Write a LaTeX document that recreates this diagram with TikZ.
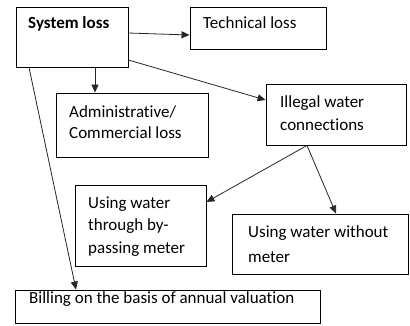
\documentclass[tikz,border=0pt]{standalone}
\usepackage{fontspec}
\setmainfont[Ligatures=NoCommon]{Carlito}
\usetikzlibrary{arrows.meta}
\tikzset{
  box/.style={draw=black, line width=0.9pt, rectangle, inner sep=0pt},
  txt/.style={anchor=base west, inner sep=0pt, font=\fontsize{17}{22}\selectfont, text=black},
  arr/.style={draw=black!85, line width=0.8pt, -{Triangle[length=8pt,width=7pt]}}
}
\begin{document}
\begin{tikzpicture}[x=1pt,y=-1pt]
\useasboundingbox (0,0) rectangle (410,325);
% boxes
\node[box, minimum width=112pt, minimum height=60pt] (sys) at (72,37) {};
\node[box, minimum width=136pt, minimum height=42pt] (tech) at (258,28) {};
\node[box, minimum width=152pt, minimum height=64pt] (admin) at (132,125) {};
\node[box, minimum width=140pt, minimum height=61pt] (ill) at (336,114.5) {};
\node[box, minimum width=131pt, minimum height=81pt] (byp) at (140.5,225.5) {};
\node[box, minimum width=176pt, minimum height=60pt] (wom) at (320,244) {};
\node[box, minimum width=305pt, minimum height=33pt] (bill) at (167.5,306.5) {};
% texts
\node[txt, font=\fontsize{17}{22}\selectfont\bfseries] (t1) at (28,28) {System loss};
\node[txt] (t2) at (203,28) {Technical loss};
\node[txt] (t3a) at (69,117) {Administrative/};
\node[txt] (t3b) at (69,138) {Commercial loss};
\node[txt] (t4a) at (280,107) {Illegal water};
\node[txt] (t4b) at (280,130) {connections};
\node[txt] (t5a) at (88,208) {Using water};
\node[txt] (t5b) at (88,230) {through by-};
\node[txt] (t5c) at (88,253) {passing meter};
\node[txt] (t6a) at (248,237) {Using water without};
\node[txt] (t6b) at (248,262) {meter};
\node[txt] (t7) at (29,303) {Billing on the basis of annual valuation};
% arrows
\draw[arr] ([yshift=4pt]sys.east) -- ([yshift=-7pt]tech.west);
\draw[arr] ([xshift=23pt]sys.south) -- ([xshift=23pt]sys.south |- admin.north);
\draw[arr] ([yshift=-23pt]sys.east) -- ([yshift=14.5pt]ill.west);
\draw[arr] ([xshift=-43pt]sys.south) -- ([xshift=-91.5pt]bill.north);
\draw[arr] ([xshift=-29pt]ill.south) -- ([yshift=23.5pt]byp.east);
\draw[arr] ([xshift=-29pt]ill.south) -- ([xshift=16pt]wom.north);
\end{tikzpicture}
\end{document}
